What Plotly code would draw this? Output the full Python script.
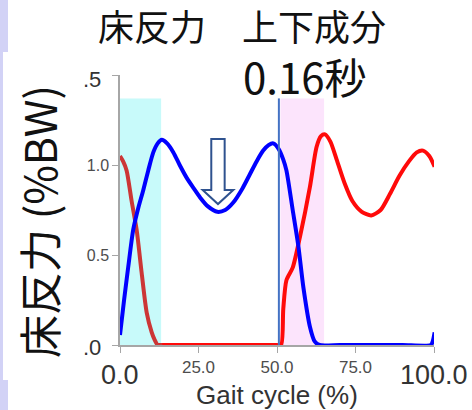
import plotly.graph_objects as go

# ---- data ----
blue_x = [0, 1.3, 2.6, 4.2, 5.8, 7.4, 9, 10.6, 12, 13.3, 15, 17, 19, 21.2, 23.5, 25.5, 28, 31,
          33.5, 36, 39, 41.4, 43.5, 45.6, 47.3, 48.8, 50.5, 52, 53, 55, 56.8, 58.4, 60.5, 62,
          63.5, 70, 80, 90, 99, 99.6, 100.2]
blue_y = [0.055, 0.25, 0.43, 0.64, 0.76, 0.86, 0.97, 1.07, 1.12, 1.14, 1.12, 1.07, 1.00, 0.93,
          0.87, 0.82, 0.77, 0.74, 0.75, 0.79, 0.87, 0.95, 1.02, 1.08, 1.11, 1.12, 1.09, 1.03,
          0.97, 0.75, 0.55, 0.32, 0.10, 0.02, 0.0, 0, 0, 0, 0, 0.02, 0.07]

# red: early (unloading) part and the rest
red_early_x = [0, 1, 2.1, 3.7, 5.3, 6.9, 8.5, 10.1, 11, 12, 13.5]
red_early_y = [1.05, 1.02, 0.97, 0.80, 0.64, 0.40, 0.18, 0.07, 0.03, 0.0, 0.0]
red_late_x = [12, 20, 30, 40, 50, 51.3, 52, 53, 55, 57.3,
              60.5, 62.6, 64, 65.3, 67, 69, 71.5, 74, 77, 80, 83, 86, 89, 92, 94.5, 96.5, 98.5, 100.2]
red_late_y = [0, 0, 0, 0, 0, 0.0, 0.2, 0.36,
              0.43, 0.6, 0.88, 1.1, 1.16, 1.17, 1.13, 1.03, 0.90, 0.80, 0.74, 0.72, 0.75, 0.84, 0.94,
              1.02, 1.07, 1.08, 1.05, 0.99]

x_tickvals = [0, 25, 50, 75, 100]
x_ticktext = ["", "25.0", "50.0", "75.0", ""]
x_big_labels = {0: "0.0", 100: "100.0"}
y_tickvals = [0, 0.5, 1.0, 1.5]
y_ticktext = ["", "0.5", "1.0", ""]
y_big_labels = {0: ".0", 1.5: ".5"}

stance_band = [0, 13.1]      # cyan band
swing_band = [51.1, 65.0]    # pink band
band_top = 1.37
event_x = 50.6
arrow_x = 31.2

title_text = "床反力　上下成分"
subtitle_text = "0.16秒"
ytitle_text = "床反力 (%BW)"
xtitle_text = "Gait cycle (%)"

fig = go.Figure()
fig.add_trace(go.Scatter(x=red_late_x, y=red_late_y, mode="lines",
                         line=dict(color="#ff0a0a", width=4, shape="spline", smoothing=0.7),
                         showlegend=False, hoverinfo="skip"))
fig.add_trace(go.Scatter(x=red_early_x, y=red_early_y, mode="lines",
                         line=dict(color="#cc3636", width=4, shape="spline", smoothing=0.7),
                         showlegend=False, hoverinfo="skip"))
fig.add_trace(go.Scatter(x=blue_x, y=blue_y, mode="lines",
                         line=dict(color="#0000ff", width=4, shape="spline", smoothing=0.7),
                         showlegend=False, hoverinfo="skip"))

W, H = 472, 410
L, R, T, B = 120, 38, 75, 65
pw, ph = W - L - R, H - T - B

def px(xp):
    return (xp - L) / pw

def py(yp):
    return (H - B - yp) / ph

shapes = []
shapes.append(dict(type="rect", xref="x", yref="y", x0=stance_band[0], x1=stance_band[1],
                   y0=0, y1=band_top, fillcolor="#c8fafa", line_width=0, layer="below"))
shapes.append(dict(type="rect", xref="x", yref="y", x0=swing_band[0], x1=swing_band[1],
                   y0=0, y1=band_top, fillcolor="#fce4fc", line_width=0, layer="below"))
shapes.append(dict(type="line", xref="x", yref="y", x0=event_x, x1=event_x, y0=-0.01, y1=band_top,
                   line=dict(color="#4472c4", width=2)))
# hollow down arrow
sw, hw = 2.13, 4.87
yt, yb, ytip = 1.144, 0.861, 0.783
ax = arrow_x
path = (f"M {ax-sw},{yt} L {ax+sw},{yt} L {ax+sw},{yb} L {ax+hw},{yb} L {ax},{ytip} "
        f"L {ax-hw},{yb} L {ax-sw},{yb} Z")
shapes.append(dict(type="path", xref="x", yref="y", path=path, fillcolor="white",
                   line=dict(color="#2f528f", width=2)))
lav = "#d2d2f6"
shapes += [
    dict(type="rect", xref="paper", yref="paper", x0=px(0), x1=px(8), y0=py(52), y1=py(0),
         fillcolor=lav, line_width=0, layer="below"),
    dict(type="rect", xref="paper", yref="paper", x0=px(0), x1=px(3), y0=py(380), y1=py(52),
         fillcolor=lav, line_width=0, layer="below"),
    dict(type="rect", xref="paper", yref="paper", x0=px(0), x1=px(8), y0=py(410), y1=py(380),
         fillcolor=lav, line_width=0, layer="below"),
]

fig.update_layout(
    width=W, height=H,
    margin=dict(l=L, r=R, t=T, b=B),
    paper_bgcolor="white", plot_bgcolor="white",
    shapes=shapes,
    xaxis=dict(range=[0, 100], tickvals=x_tickvals, ticktext=x_ticktext, showgrid=False,
               zeroline=False, showline=True, linecolor="#a6a6a6", linewidth=1.5,
               ticks="outside", ticklen=6, tickcolor="#a6a6a6",
               tickfont=dict(family="Liberation Sans", size=17, color="#4d4d4d")),
    yaxis=dict(range=[0, 1.5], tickvals=y_tickvals, ticktext=y_ticktext, showgrid=False,
               zeroline=False, showline=True, linecolor="#a6a6a6", linewidth=1.5,
               ticks="outside", ticklen=6, tickcolor="#a6a6a6",
               tickfont=dict(family="Liberation Sans", size=16, color="#4d4d4d")),
)

ann = []
ann.append(dict(text=title_text, x=px(241.5), y=py(25), xref="paper", yref="paper",
                showarrow=False, font=dict(family="Noto Sans CJK JP", size=36, color="#111111"),
                xanchor="center", yanchor="middle"))
ann.append(dict(text=subtitle_text, x=px(305), y=py(76), xref="paper", yref="paper",
                showarrow=False, font=dict(family="Noto Sans CJK JP", size=42, color="#111111"),
                xanchor="center", yanchor="middle"))
ann.append(dict(text=ytitle_text, x=px(38), y=py(222), xref="paper", yref="paper",
                showarrow=False, textangle=-90,
                font=dict(family="Noto Sans CJK JP", size=43, color="#111111"),
                xanchor="center", yanchor="middle"))
ann.append(dict(text=xtitle_text, x=px(277), y=py(395), xref="paper", yref="paper",
                showarrow=False, font=dict(family="Liberation Sans", size=26, color="#333333"),
                xanchor="center", yanchor="middle"))
for xv, t in x_big_labels.items():
    ann.append(dict(text=t, x=xv, y=py(375), xref="x", yref="paper", showarrow=False,
                    font=dict(family="Liberation Sans", size=27, color="#333333"),
                    xanchor="center", yanchor="middle"))
for yv, t in y_big_labels.items():
    ann.append(dict(text=t, x=px(103), y=yv, xref="paper", yref="y", showarrow=False,
                    yshift=-4 if yv > 1 else -2,
                    font=dict(family="Liberation Sans", size=22, color="#333333"),
                    xanchor="right", yanchor="middle"))
fig.update_layout(annotations=ann)

fig.write_html("out.html")
